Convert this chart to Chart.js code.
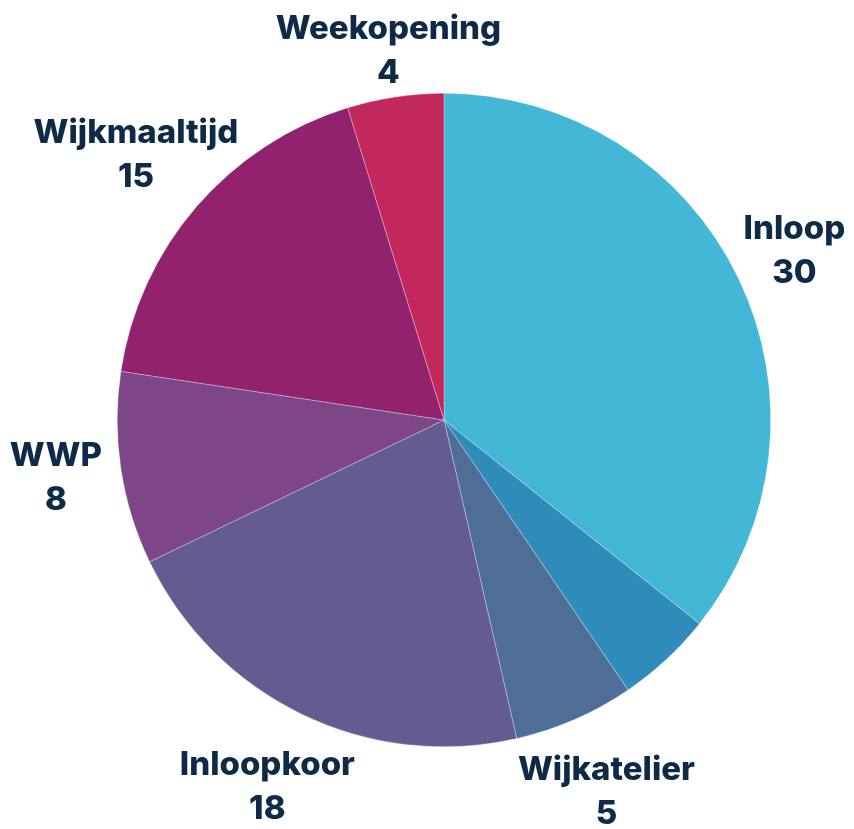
<!DOCTYPE html>
<html>
<head>
<meta charset="utf-8">
<script src="https://cdn.jsdelivr.net/npm/chart.js@4/dist/chart.umd.min.js"></script>
<style>
  html, body { margin: 0; padding: 0; background: #fff; }
  #wrap { width: 854px; height: 829px; }
</style>
</head>
<body>
<div id="wrap"><canvas id="pie" width="854" height="829"></canvas></div>
<script>
// categorieën en aantallen
const categories = ['Inloop', '', 'Wijkatelier', 'Inloopkoor', 'WWP', 'Wijkmaaltijd', 'Weekopening'];
const counts = [30, 4, 5, 18, 8, 15, 4];
const sliceColors = ['#42B7D6', '#2E8BBA', '#4E6E98', '#645B90', '#7C4687', '#93226E', '#C2285E'];

const labelFont = '800 33px Inter';
const labelColor = '#0E2A47';

// Plugin: labels buiten de taart, naam + waarde op twee regels
const outsideLabels = {
  id: 'outsideLabels',
  afterDatasetsDraw(chart) {
    const ctx = chart.ctx;
    const meta = chart.getDatasetMeta(0);
    ctx.save();
    ctx.font = labelFont;
    ctx.fillStyle = labelColor;
    ctx.textAlign = 'center';
    ctx.textBaseline = 'middle';
    const lineH = 44;
    meta.data.forEach((arc, i) => {
      const name = chart.data.labels[i];
      if (!name) return;
      const p = arc.getProps(['x', 'y', 'startAngle', 'endAngle', 'outerRadius'], true);
      const mid = (p.startAngle + p.endAngle) / 2;
      const w = ctx.measureText(name).width;
      // afstand vanaf het midden: iets verder bij brede labels en onderaan
      const dist = p.outerRadius + 37 + 0.55 * Math.abs(Math.cos(mid)) * w / 2 + Math.max(0, Math.sin(mid)) * 25;
      const cx = p.x + Math.cos(mid) * dist;
      const cy = p.y + Math.sin(mid) * dist;
      ctx.fillText(name, cx, cy - lineH / 2);
      ctx.fillText(String(counts[i]), cx, cy + lineH / 2);
    });
    ctx.restore();
  }
};

new Chart(document.getElementById('pie').getContext('2d'), {
  type: 'pie',
  data: {
    labels: categories,
    datasets: [{
      data: counts,
      backgroundColor: sliceColors,
      borderColor: 'rgba(255,255,255,0.6)',
      borderWidth: 0.5
    }]
  },
  options: {
    responsive: false,
    animation: false,
    layout: { padding: { top: 93, bottom: 82, left: 117, right: 83 } },
    plugins: {
      legend: { display: false },
      tooltip: { enabled: false }
    }
  },
  plugins: [outsideLabels]
});
</script>
</body>
</html>
